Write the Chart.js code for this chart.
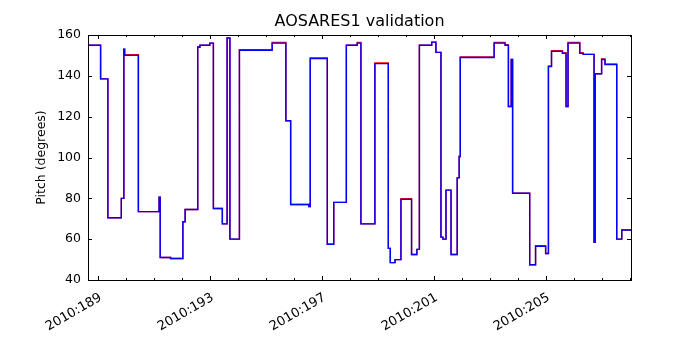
<!DOCTYPE html>
<html>
<head>
<meta charset="utf-8">
<script src="https://cdn.jsdelivr.net/npm/chart.js@4"></script>
<style>
  html, body { margin: 0; padding: 0; background: #fff; }
  #wrap { width: 700px; height: 350px; }
</style>
</head>
<body>
<div id="wrap"><canvas id="pitchChart" width="700" height="350"></canvas></div>
<script>
// day-of-year (2010) where each pitch step starts
const stepDays = [
    188.65, 189.10, 189.36, 189.84, 189.93, 189.96, 190.45, 191.19, 191.23, 191.60,
    192.04, 192.12, 192.57, 192.65, 193.00, 193.13, 193.45, 193.62, 193.72, 194.06,
    195.23, 195.72, 195.89, 196.54, 196.59, 197.20, 197.43, 197.88, 198.27, 198.40,
    198.90, 199.38, 199.45, 199.62, 199.83, 200.21, 200.40, 200.49, 200.93, 201.08,
    201.26, 201.33, 201.44, 201.62, 201.84, 201.91, 201.95, 203.16, 203.55, 203.67,
    203.77, 203.82, 204.43, 204.64, 205.00, 205.10, 205.21, 205.60, 205.73, 205.80,
    206.22, 206.34, 206.73, 206.77, 207.00, 207.12, 207.54, 207.72, 208.05
];
const bluePitch = [
    155, 138.5, 70.5, 80, 153, 150, 73.5, 80.5, 51, 50.5,
    68.5, 74.5, 154, 155, 156, 75, 67.5, 158.5, 60, 152.5,
    156, 118, 77, 76, 148.5, 57.5, 78, 155, 156, 67.5,
    146, 55.5, 48.5, 50, 79.5, 52.5, 55, 155, 156.5, 151.5,
    61, 60, 84, 52.5, 90, 100.5, 149, 156, 155, 125,
    148, 82.5, 47.5, 56.5, 53, 144.5, 152, 151, 125, 156,
    151, 150.5, 58.5, 141, 148, 145.5, 60, 64.5, 64.5
];
const redPitch = [
    155, 138.5, 70.5, 80, 153, 150.3, 73.5, 80.5, 51, 50.5,
    68.5, 74.5, 154.3, 155, 156, 75, 67.5, 158.5, 60, 152.8,
    156.3, 118, 77, 76, 148.8, 57.5, 78, 155, 156.3, 67.5,
    146.3, 55.5, 48.5, 50, 79.8, 52.5, 55, 155, 156.5, 151.5,
    61, 60, 84, 52.5, 90, 100.5, 149.3, 156.3, 155.3, 125,
    148, 82.5, 47.5, 56.8, 53, 144.8, 152.3, 151.3, 125, 156.3,
    151.3, 150.5, 58.5, 141, 148.3, 145.8, 60, 64.5, 64.5
];
const majorDays = [189, 193, 197, 201, 205];
const yTicks = [40, 60, 80, 100, 120, 140, 160];
const chartTitle = 'AOSARES1 validation';

const fontFamily = '"DejaVu Sans", sans-serif';

function toPoints(values) {
    return stepDays.map((day, i) => ({ x: day, y: values[i] }));
}

// matplotlib-like frame with inward ticks on all four sides, title over the axes
const frameTicks = {
    id: 'frameTicks',
    afterDraw(chart) {
        const { ctx, chartArea: a, scales } = chart;
        const xs = scales.x;
        const ys = scales.y;
        ctx.save();
        ctx.strokeStyle = '#000';
        ctx.lineWidth = 1;
        ctx.beginPath();
        for (let d = Math.ceil(xs.min); d <= xs.max; d++) {
            const len = majorDays.includes(d) ? 4 : 2;
            const px = Math.round(xs.getPixelForValue(d)) + 0.5;
            ctx.moveTo(px, a.bottom);
            ctx.lineTo(px, a.bottom - len);
            ctx.moveTo(px, a.top);
            ctx.lineTo(px, a.top + len);
        }
        yTicks.forEach(v => {
            const py = Math.round(ys.getPixelForValue(v)) + 0.5;
            ctx.moveTo(a.left, py);
            ctx.lineTo(a.left + 4, py);
            ctx.moveTo(a.right, py);
            ctx.lineTo(a.right - 4, py);
        });
        ctx.stroke();
        ctx.strokeRect(Math.round(a.left) + 0.5, Math.round(a.top) + 0.5,
            Math.round(a.right - a.left), Math.round(a.bottom - a.top));

        ctx.fillStyle = '#000';
        ctx.font = `16px ${fontFamily}`;
        ctx.textAlign = 'center';
        ctx.textBaseline = 'middle';
        ctx.fillText(chartTitle, (a.left + a.right) / 2, 22);
        ctx.restore();
    }
};

const ctx = document.getElementById('pitchChart').getContext('2d');
new Chart(ctx, {
    type: 'line',
    data: {
        datasets: [{
            label: 'blue',
            data: toPoints(bluePitch),
            borderColor: '#0000ff',
            borderWidth: 1.4,
            stepped: 'before',
            pointRadius: 0,
            fill: false,
            order: 0
        }, {
            label: 'red',
            data: toPoints(redPitch),
            borderColor: '#ff0000',
            borderWidth: 1.4,
            stepped: 'before',
            pointRadius: 0,
            fill: false,
            order: 1
        }]
    },
    options: {
        responsive: false,
        animation: false,
        events: [],
        layout: { padding: { left: 0, right: 69, top: 35, bottom: 0 } },
        plugins: {
            legend: { display: false },
            tooltip: { enabled: false },
            title: { display: false }
        },
        scales: {
            x: {
                type: 'linear',
                min: 188.65,
                max: 208.05,
                grid: { display: false, drawTicks: false },
                border: { display: false },
                afterBuildTicks: scale => {
                    scale.ticks = majorDays.map(v => ({ value: v }));
                },
                afterFit: scale => { scale.height = 70; },
                ticks: {
                    autoSkip: false,
                    minRotation: 30,
                    maxRotation: 30,
                    padding: 10,
                    labelOffset: 3,
                    color: '#000',
                    font: { family: fontFamily, size: 13 },
                    callback: value => `2010:${value}`
                }
            },
            y: {
                min: 40,
                max: 160,
                grid: { display: false, drawTicks: false },
                border: { display: false },
                afterBuildTicks: scale => {
                    scale.ticks = yTicks.map(v => ({ value: v }));
                },
                afterFit: scale => { scale.width = 88; },
                title: {
                    display: true,
                    text: 'Pitch (degrees)',
                    color: '#000',
                    font: { family: fontFamily, size: 12.5 },
                    padding: { top: 34, bottom: 0 }
                },
                ticks: {
                    padding: 7,
                    color: '#000',
                    font: { family: fontFamily, size: 12.5 }
                }
            }
        }
    },
    plugins: [frameTicks]
});
</script>
</body>
</html>
